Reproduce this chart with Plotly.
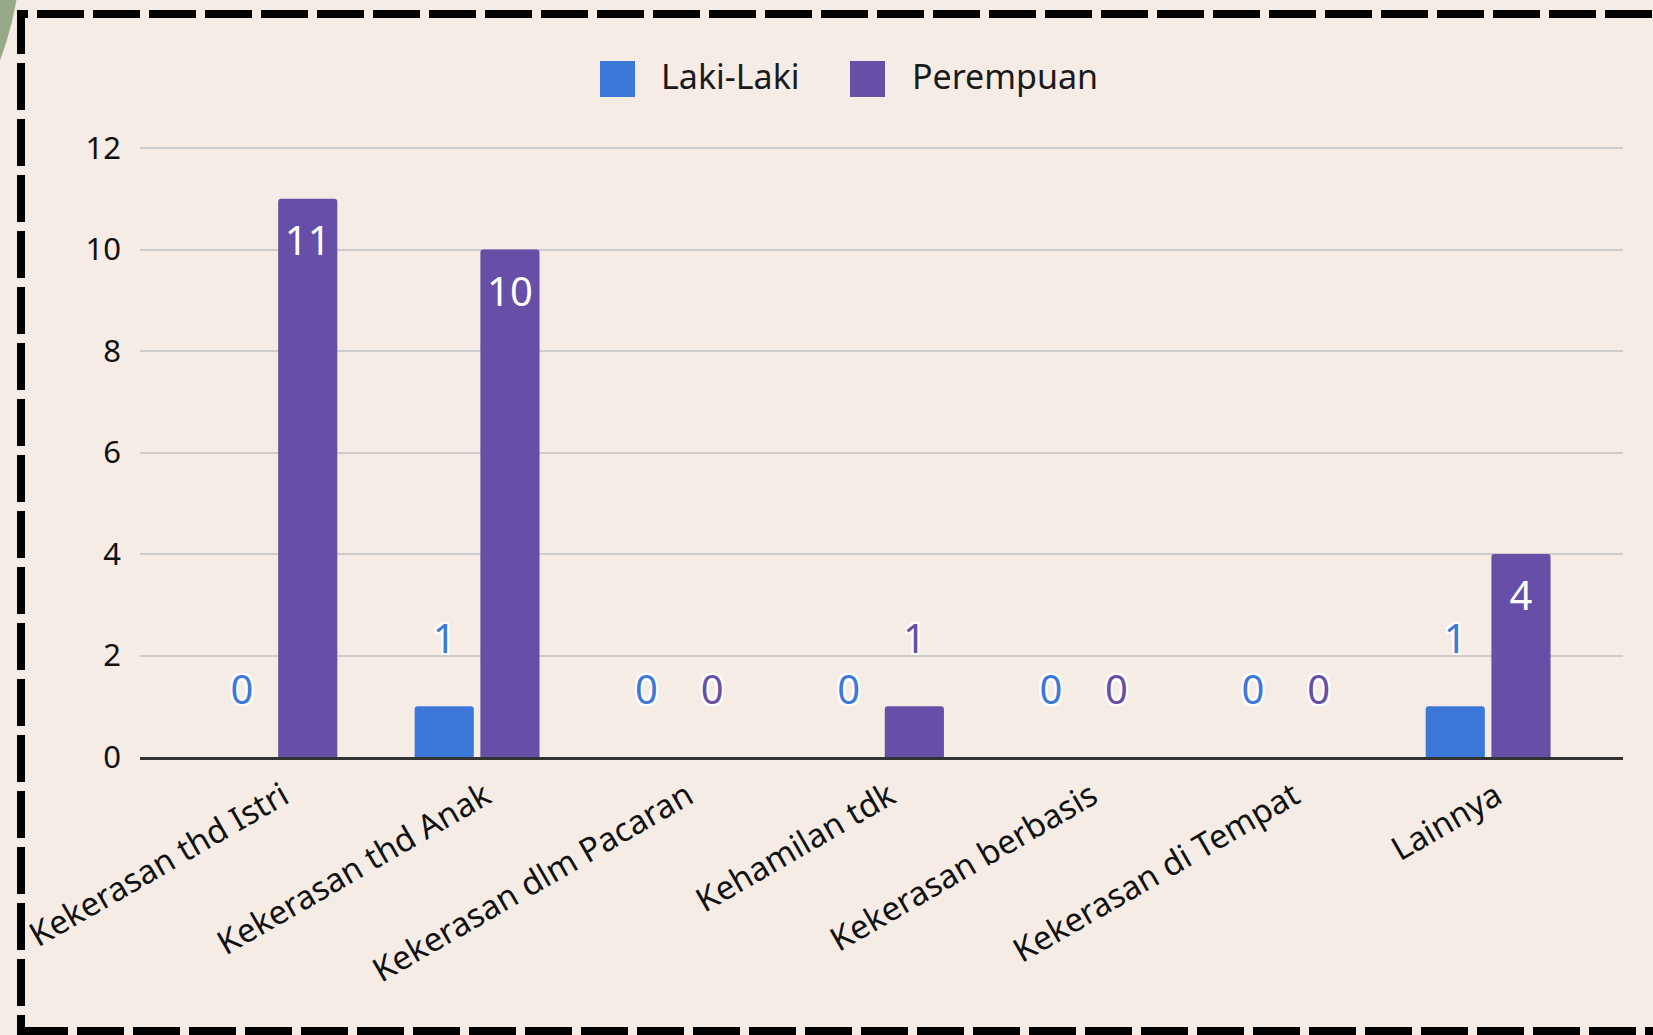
import plotly.graph_objects as go

# ---------------- data ----------------
categories = ["Kekerasan thd Istri", "Kekerasan thd Anak", "Kekerasan dlm Pacaran",
              "Kehamilan tdk", "Kekerasan berbasis", "Kekerasan di Tempat", "Lainnya"]
laki_laki = [0, 1, 0, 0, 0, 0, 1]
perempuan = [11, 10, 0, 1, 0, 0, 4]
series_names = ["Laki-Laki", "Perempuan"]
y_tick_values = [0, 2, 4, 6, 8, 10, 12]

# ---------------- style ----------------
BLUE = "#3C78D8"
PURPLE = "#674EA7"
BG = "#F4ECE5"
FONT = "Noto Sans"
W, H = 1653, 1035
ML, MR, MT, MB = 140, 30, 145, 278
PW, PH = W - ML - MR, H - MT - MB
Y_MAX = 12.06

HALO = ("2px 0 0 #fff, -2px 0 0 #fff, 0 2px 0 #fff, 0 -2px 0 #fff, "
        "2px 2px 0 #fff, -2px -2px 0 #fff, 2px -2px 0 #fff, -2px 2px 0 #fff")


def px_x(px):
    return (px - ML) / PW


def px_y(py):
    return (H - MB - py) / PH


fig = go.Figure()

for name, vals, col in [(series_names[0], laki_laki, BLUE), (series_names[1], perempuan, PURPLE)]:
    fig.add_trace(go.Bar(x=categories, y=vals, name=name, marker=dict(color=col, line=dict(width=0)),
                         offsetgroup=name, showlegend=False, hoverinfo="x+y+name"))

for name, vals, col in [(series_names[0], laki_laki, BLUE), (series_names[1], perempuan, PURPLE)]:
    inside = [v >= 2 for v in vals]
    pos = ["bottom center" if i else "top center" for i in inside]
    colors = ["#FFFFFF" if i else col for i in inside]
    sizes = [40 if i else 68 for i in inside]
    shadows = ["none" if i else HALO for i in inside]
    try:
        tf = dict(family=FONT, size=40, color=colors, shadow=shadows)
        tr = go.Scatter(x=categories, y=vals, mode="markers+text", text=[str(v) for v in vals],
                        textposition=pos, textfont=tf,
                        marker=dict(size=sizes, opacity=0, color=col),
                        offsetgroup=name, orientation="v", showlegend=False,
                        hoverinfo="skip", cliponaxis=False)
    except ValueError:
        tf = dict(family=FONT, size=40, color=colors, shadow=HALO)
        tr = go.Scatter(x=categories, y=vals, mode="markers+text", text=[str(v) for v in vals],
                        textposition=pos, textfont=tf,
                        marker=dict(size=sizes, opacity=0, color=col),
                        offsetgroup=name, orientation="v", showlegend=False,
                        hoverinfo="skip", cliponaxis=False)
    fig.add_trace(tr)

shapes = []
# decorative green circle (top-left corner)
shapes.append(dict(type="circle", xref="paper", yref="paper", layer="below",
                   x0=px_x(-621), x1=px_x(21), y0=px_y(267), y1=px_y(-375),
                   fillcolor="#98A98A", line=dict(width=0)))
# dashed frame
shapes.append(dict(type="rect", xref="paper", yref="paper", layer="above",
                   x0=px_x(21), x1=px_x(1700), y0=px_y(1031), y1=px_y(14),
                   line=dict(color="#000000", width=8, dash="47px,9px"),
                   fillcolor="rgba(0,0,0,0)"))
# legend swatches
annotations = []
for name, col, sx, tx in [(series_names[0], BLUE, 600, 659), (series_names[1], PURPLE, 850, 910)]:
    shapes.append(dict(type="rect", xref="paper", yref="paper", layer="above",
                       x0=px_x(sx), x1=px_x(sx + 35), y0=px_y(97), y1=px_y(61),
                       fillcolor=col, line=dict(width=0)))
    annotations.append(dict(text=name, xref="paper", yref="paper", x=px_x(tx), y=px_y(76),
                            xanchor="left", yanchor="middle", showarrow=False,
                            font=dict(family=FONT, size=34, color="#1A1A1A")))

fig.update_layout(
    width=W, height=H,
    margin=dict(l=ML, r=MR, t=MT, b=MB, pad=0),
    paper_bgcolor=BG, plot_bgcolor=BG,
    barmode="group", bargap=0.35, bargroupgap=0.1, barcornerradius=3,
    scattermode="group", scattergap=0.35,
    showlegend=False,
    shapes=shapes, annotations=annotations,
    xaxis=dict(type="category", range=[-0.667, 6.667], showgrid=False, zeroline=False,
               showline=True, linecolor="#333333", linewidth=3, ticks="",
               tickangle=-30, tickfont=dict(family=FONT, size=33, color="#111111"),
               ticklabelstandoff=4, ticklabelshift=8, fixedrange=True),
    yaxis=dict(range=[0, Y_MAX], tickvals=y_tick_values, showgrid=True, gridcolor="#CCCCCC",
               gridwidth=2, zeroline=False, showline=False, ticks="",
               tickfont=dict(family=FONT, size=31, color="#111111"),
               ticklabelstandoff=18, fixedrange=True),
)

fig.write_html("out.html", config={"displayModeBar": False},
               post_script="document.body.style.margin='0';document.body.style.overflow='hidden';")
